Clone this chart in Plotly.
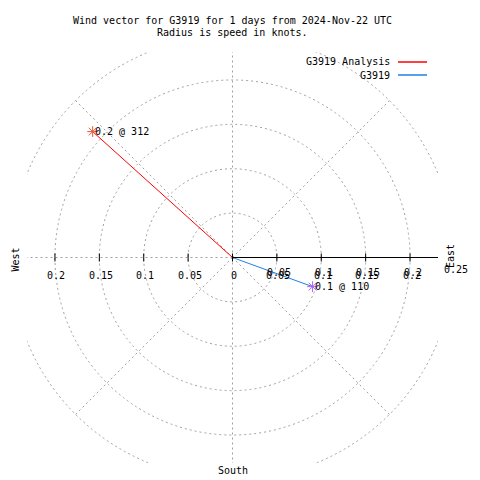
import numpy as np
import plotly.graph_objects as go

# ---- data ----
series_names = ["G3919 Analysis", "G3919"]
speeds_kt = [0.212, 0.096]          # radius = speed in knots
directions_deg = [312, 110]         # compass direction (deg, clockwise from north)
series_colors = ["#ff0000", "#1e82e6"]
grid_radii = [0.05, 0.10, 0.15, 0.20, 0.25]
spoke_angles = [0, 45, 90, 135, 180, 225, 270, 315]
tick_values = [-0.2, -0.15, -0.1, -0.05, 0, 0.05, 0.1, 0.15, 0.2, 0.25]
tick_labels = ["0.2", "0.15", "0.1", "0.05", "0", "0.05", "0.1", "0.15", "0.2", "0.25"]
title_lines = ["Wind vector for G3919 for 1 days from 2024-Nov-22 UTC",
               "Radius is speed in knots."]

# ---- layout geometry ----
W = H = 480
L, R, T, B = 27, 42, 52, 17
RMAX = 0.2315
FONT = dict(family="DejaVu Sans Mono", size=10, color="black")
GRID = dict(color="#a0a0a0", width=1, dash="2px,3px")

def pxx(px):
    return (px - L) / (W - L - R)

def pxy(py):
    return (H - B - py) / (H - T - B)

def dx(v):
    return (v + RMAX) / (2 * RMAX)

fig = go.Figure()
shapes = []
annotations = []

def ann(**kw):
    kw.setdefault("showarrow", False)
    kw.setdefault("font", FONT)
    kw.setdefault("xanchor", "center")
    kw.setdefault("yanchor", "middle")
    annotations.append(kw)

# polar grid circles
for r in grid_radii:
    shapes.append(dict(type="circle", xref="x", yref="y", x0=-r, x1=r, y0=-r, y1=r,
                       line=GRID, layer="below"))
# spokes
for a in spoke_angles:
    th = np.deg2rad(a)
    rr = max(grid_radii)
    shapes.append(dict(type="line", xref="x", yref="y", x0=0, y0=0,
                       x1=rr * np.sin(th), y1=rr * np.cos(th), line=GRID, layer="below"))
# solid axis on the east side
shapes.append(dict(type="line", xref="x", yref="y", x0=0, x1=RMAX, y0=0, y1=0,
                   line=dict(color="black", width=1)))
# ticks
for tv in tick_values:
    if abs(tv) < RMAX:
        shapes.append(dict(type="line", xref="x", yref="y", ysizemode="pixel", yanchor=0,
                           x0=tv, x1=tv, y0=-4, y1=4, line=dict(color="black", width=1)))
# tick labels
for tv, tl in zip(tick_values, tick_labels):
    if abs(tv) < RMAX:
        ann(x=tv, y=0, xref="x", yref="y", text=tl, xshift=1.5, yshift=-18)
        if tv > 0:
            ann(x=tv, y=0, xref="x", yref="y", text=tl, xshift=2.5, yshift=-15)
    else:
        ann(x=dx(tv), y=0.5, xref="paper", yref="paper", text=tl, xshift=1.5, yshift=-12)

# wind vectors
for name, s, d, c in zip(series_names, speeds_kt, directions_deg, series_colors):
    th = np.deg2rad(d)
    x_end = s * np.sin(th)
    y_end = s * np.cos(th)
    fig.add_trace(go.Scatter(x=[0, x_end], y=[0, y_end], mode="lines", name=name,
                             line=dict(color=c, width=1), showlegend=False))
    fig.add_trace(go.Scatter(x=[x_end], y=[y_end], mode="markers", name=name,
                             marker=dict(symbol="asterisk-open", size=9,
                                         line=dict(color=c, width=1)),
                             showlegend=False))
    ann(x=x_end, y=y_end, xref="x", yref="y", text=f"{s:.1f} @ {d}", xanchor="left")

# legend (gnuplot style: text then line sample)
for i, (name, c) in enumerate(zip(series_names, series_colors)):
    py = 62 + 13 * i
    ann(x=pxx(392), y=pxy(py), xref="paper", yref="paper", text=name, xanchor="right")
    shapes.append(dict(type="line", xref="paper", yref="paper", x0=pxx(398), x1=pxx(427),
                       y0=pxy(py), y1=pxy(py), line=dict(color=c, width=1.5)))

# title
for i, line in enumerate(title_lines):
    ann(x=pxx(232), y=pxy(20 + 13 * i), xref="paper", yref="paper", text=line)

# compass labels
ann(x=pxx(233), y=pxy(470), xref="paper", yref="paper", text="South")
ann(x=pxx(14.5), y=pxy(260), xref="paper", yref="paper", text="West", textangle=-90)
ann(x=pxx(451), y=pxy(256), xref="paper", yref="paper", text="East", textangle=-90)

fig.update_layout(
    width=W, height=H, margin=dict(l=L, r=R, t=T, b=B),
    paper_bgcolor="white", plot_bgcolor="white",
    xaxis=dict(range=[-RMAX, RMAX], visible=False, fixedrange=True),
    yaxis=dict(range=[-RMAX, RMAX], visible=False, fixedrange=True),
    shapes=shapes, annotations=annotations, showlegend=False,
)

fig.write_html("out.html", config={"displayModeBar": False},
               post_script="document.body.style.margin='0';document.body.style.overflow='hidden';")
